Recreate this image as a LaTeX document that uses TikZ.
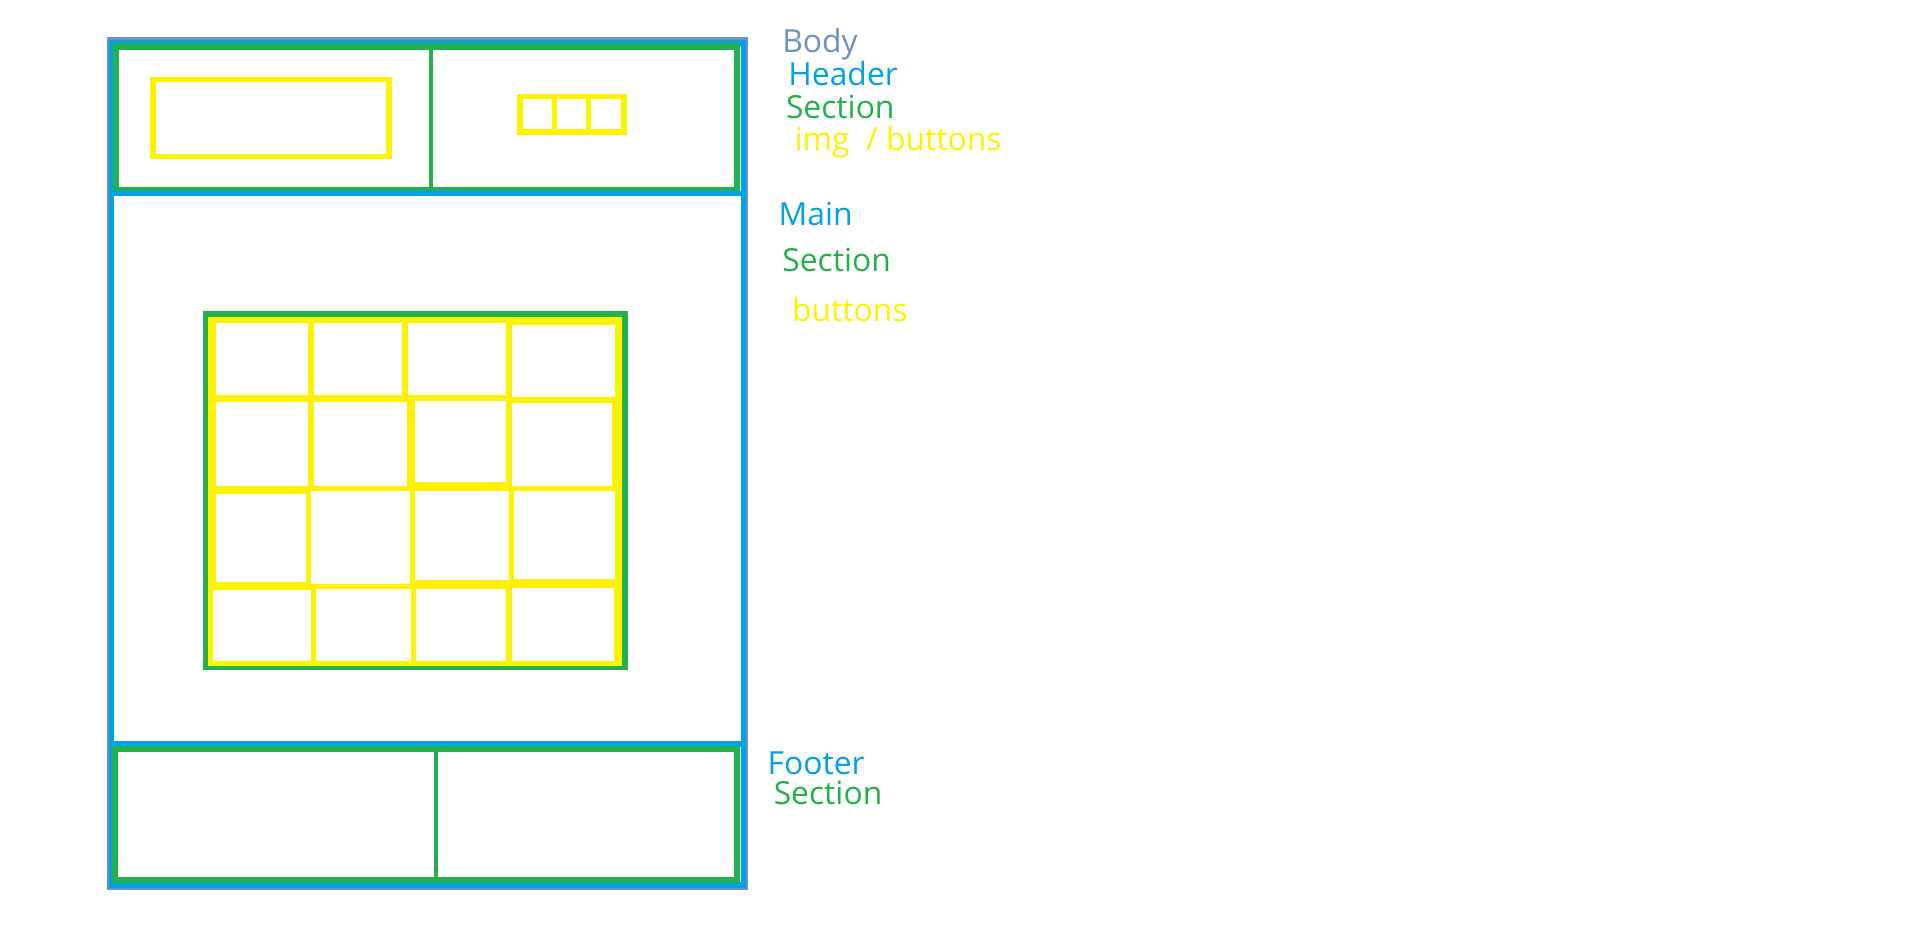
\documentclass[tikz,border=0pt]{standalone}
\usepackage{fontspec}
\setmainfont{Open Sans}
\definecolor{bodyc}{HTML}{7092BE}
\definecolor{bluec}{HTML}{00A2E8}
\definecolor{greenc}{HTML}{22B14C}
\definecolor{yelc}{HTML}{FFF200}
\tikzset{
  bodybox/.style={draw=bodyc, line width=3pt},
  bluebox/.style={draw=bluec, line width=4.5pt},
  greenbox/.style={draw=greenc, line width=5pt},
  greenline/.style={draw=greenc, line width=3.5pt},
  yelbox/.style={draw=yelc, line width=4.5pt},
  lbl/.style={anchor=base west, inner sep=0pt, font=\fontsize{26}{30}\selectfont},
}
\begin{document}
\begin{tikzpicture}[x=1pt, y=-1pt]
\useasboundingbox[fill=white] (0,0) rectangle (1563,764);
% body
\draw[bodybox] (89,32) rectangle (610,726);
% header
\draw[bluebox] (91,35) rectangle (607.5,158);
\draw[greenbox] (95,38) rectangle (602,155);
\draw[greenline] (352,38) -- (352,155);
\draw[yelbox] (125,65) rectangle (318,128);
\draw[yelbox] (425,79) rectangle (510,108);
\draw[yelbox] (453,79) -- (453,108);
\draw[yelbox] (481,79) -- (481,108);
% main
\draw[bluebox] (91,158) rectangle (607.5,608);
\draw[greenbox] (168,257) rectangle (511,545);
\draw[yelbox] (172,261) rectangle (506,542);
% row 1
\draw[yelbox] (174,262) rectangle (254,325);
\draw[yelbox] (254,262) rectangle (331,325);
\draw[yelbox] (331,262) rectangle (416,325);
\draw[yelbox] (416,263) rectangle (505,327);
% row 2
\draw[yelbox] (174,326) rectangle (254,399);
\draw[yelbox] (254,326) rectangle (335,399);
\draw[yelbox] (337,325) rectangle (416,396);
\draw[yelbox] (416,327) rectangle (502,399);
% row 3
\draw[yelbox] (174,401) rectangle (252,478);
\draw[yelbox] (252,399) rectangle (337,479);
\draw[yelbox] (337,399) rectangle (418,476);
\draw[yelbox] (418,399) rectangle (505,475);
% row 4
\draw[yelbox] (172,480) rectangle (256,542);
\draw[yelbox] (256,479) rectangle (338,542);
\draw[yelbox] (338,479) rectangle (416,542);
\draw[yelbox] (416,478) rectangle (504,542);
% footer
\draw[bluebox] (91,608) rectangle (607.5,723);
\draw[greenbox] (94,612) rectangle (602,719);
\draw[greenline] (356,612) -- (356,719);
% labels
\node[lbl, text=bodyc] (tbody) at (639,43) {Body};
\node[lbl, text=bluec] (theader) at (644,70) {Header};
\node[lbl, text=greenc] (tsec1) at (642,97) {Section};
\node[lbl, text=yelc] (timg) at (649,123) {img\ \ / buttons};
\node[lbl, text=bluec] (tmain) at (636,184) {Main};
\node[lbl, text=greenc] (tsec2) at (639,222) {Section};
\node[lbl, text=yelc] (tbtn) at (647,263) {buttons};
\node[lbl, text=bluec] (tfooter) at (627,633) {Footer};
\node[lbl, text=greenc] (tsec3) at (632,657) {Section};
\end{tikzpicture}
\end{document}
